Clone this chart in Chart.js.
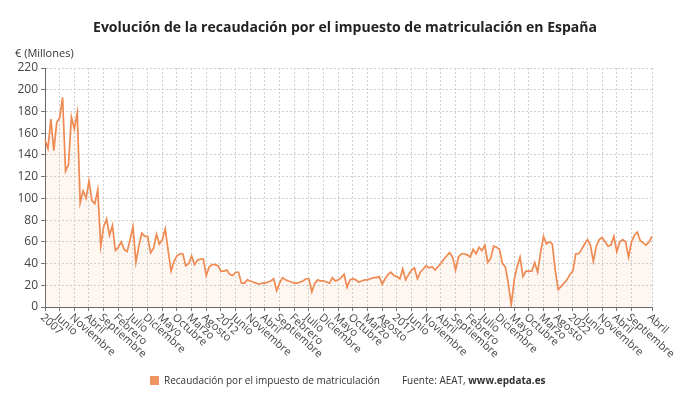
<!DOCTYPE html>
<html>
<head>
<meta charset="utf-8">
<script src="https://cdn.jsdelivr.net/npm/chart.js@4.4.0/dist/chart.umd.min.js"></script>
<style>
body{margin:0;background:#fff;font-family:"Open Sans",sans-serif;}
#wrap{position:relative;width:690px;height:405px;overflow:hidden;}
#titulo{position:absolute;top:17px;left:0;width:690px;text-align:center;font-weight:700;font-size:14px;color:#222;}
#unidad{position:absolute;top:45px;left:15px;font-size:11px;color:#333;}
#leyenda{position:absolute;top:373px;left:150px;font-size:10px;color:#333;white-space:nowrap;}
#leyenda .cuadro{display:inline-block;width:9px;height:9px;background:#ef9460;margin-right:5px;vertical-align:-1px;}
#leyenda .fuente{margin-left:22px;}
canvas{position:absolute;left:0;top:0;}
</style>
</head>
<body>
<div id="wrap">
  <canvas id="grafico" width="690" height="405"></canvas>
  <div id="titulo">Evolución de la recaudación por el impuesto de matriculación en España</div>
  <div id="unidad">€ (Millones)</div>
  <div id="leyenda"><span class="cuadro"></span>Recaudación por el impuesto de matriculación<span class="fuente">Fuente: AEAT, <b>www.epdata.es</b></span></div>
</div>
<script>
// enero 2007 - abril 2024, millones de euros
var anioInicio = 2007;
var meses = ['Enero', 'Febrero', 'Marzo', 'Abril', 'Mayo', 'Junio', 'Julio',
  'Agosto', 'Septiembre', 'Octubre', 'Noviembre', 'Diciembre'];

var recaudacion = [
  154, 146, 173, 144, 170, 174, 193, 125, 131, 175, 164, 179,
  96, 107, 100, 116, 98, 95, 108, 56, 74, 81, 66, 75,
  52, 55, 60, 53, 51, 62, 74, 41, 56, 68, 65, 65,
  50, 54, 67, 58, 62, 72, 52, 33, 42, 47, 49, 49,
  38, 40, 47, 39, 43, 44, 44, 29, 37, 39, 39, 38,
  33, 33, 34, 30, 29, 32, 32, 22, 22, 25, 24, 23,
  22, 21, 22, 22, 23, 24, 26, 15, 22, 27, 25, 24,
  23, 22, 22, 23, 24, 26, 26, 14, 22, 25, 24, 24,
  23, 22, 27, 24, 25, 27, 30, 18, 25, 26, 25, 23,
  24, 25, 25, 26, 27, 27, 28, 21, 26, 30, 32, 29,
  28, 26, 35, 25, 30, 34, 36, 26, 32, 35, 38, 36,
  37, 34, 37, 40, 44, 47, 50, 46, 34, 46, 49, 49,
  48, 46, 53, 49, 55, 52, 57, 41, 45, 56, 55, 53,
  40, 37, 22, 2, 25, 37, 46, 28, 33, 33, 33, 41,
  32, 50, 65, 58, 60, 58, 34, 16, 19, 22, 25, 30,
  33, 49, 49, 53, 58, 62, 57, 42, 56, 62, 64, 60,
  56, 57, 65, 51, 60, 62, 60, 46, 60, 66, 69, 61,
  59, 57, 60, 65
];

var categorias = recaudacion.map(function (v, i) {
  return meses[i % 12] + ' ' + (anioInicio + Math.floor(i / 12));
});

var ultimo = recaudacion.length - 1;

function conEtiqueta(i) {
  return (i % 5 === 0 && i <= ultimo - 5) || i === ultimo;
}
function textoEtiqueta(i) {
  if (i % 12 === 0) return String(anioInicio + i / 12);
  return meses[i % 12];
}

// etiquetas del eje x giradas hacia abajo a la derecha
var etiquetasEje = {
  id: 'etiquetasEje',
  afterDraw: function (chart) {
    var x = chart.scales.x;
    var ctx = chart.ctx;
    ctx.save();
    ctx.font = '11px "Open Sans"';
    ctx.fillStyle = '#444';
    ctx.textAlign = 'left';
    ctx.textBaseline = 'middle';
    x.ticks.forEach(function (t, i) {
      if (!conEtiqueta(i)) return;
      var px = x.getPixelForTick(i);
      ctx.save();
      ctx.translate(px - 3, x.top + 9);
      ctx.rotate(42 * Math.PI / 180);
      ctx.fillText(textoEtiqueta(i), 0, 0);
      ctx.restore();
    });
    ctx.restore();
  }
};

var ctx = document.getElementById('grafico').getContext('2d');
var grafico = new Chart(ctx, {
  type: 'line',
  data: {
    labels: categorias,
    datasets: [{
      label: 'Recaudación por el impuesto de matriculación',
      data: recaudacion,
      borderColor: '#ee8a52',
      backgroundColor: 'rgba(245, 150, 100, 0.09)',
      borderWidth: 1.7,
      fill: true,
      pointRadius: 0,
      tension: 0
    }]
  },
  options: {
    responsive: false,
    animation: false,
    layout: { padding: { top: 68, right: 38, left: 0, bottom: 0 } },
    plugins: {
      legend: { display: false },
      title: { display: false },
      tooltip: { enabled: false }
    },
    scales: {
      x: {
        offset: false,
        afterFit: function (s) { s.height = 98; },
        ticks: { display: false },
        grid: {
          color: function (c) { return conEtiqueta(c.index) ? '#cfcfcf' : 'rgba(0,0,0,0)'; },
          tickColor: function (c) { return conEtiqueta(c.index) ? '#777' : 'rgba(0,0,0,0)'; },
          tickLength: 4,
          lineWidth: 1
        },
        border: { display: true, color: '#666', width: 1, dash: [2, 2] }
      },
      y: {
        min: 0,
        max: 220,
        afterFit: function (s) { s.width = 45; },
        ticks: {
          stepSize: 20,
          color: '#444',
          font: { family: 'Open Sans', size: 12 },
          padding: 3
        },
        grid: {
          color: '#cfcfcf',
          tickColor: '#777',
          tickLength: 4
        },
        border: { display: true, color: '#666', width: 1, dash: [2, 2] }
      }
    }
  },
  plugins: [etiquetasEje]
});
</script>
</body>
</html>
